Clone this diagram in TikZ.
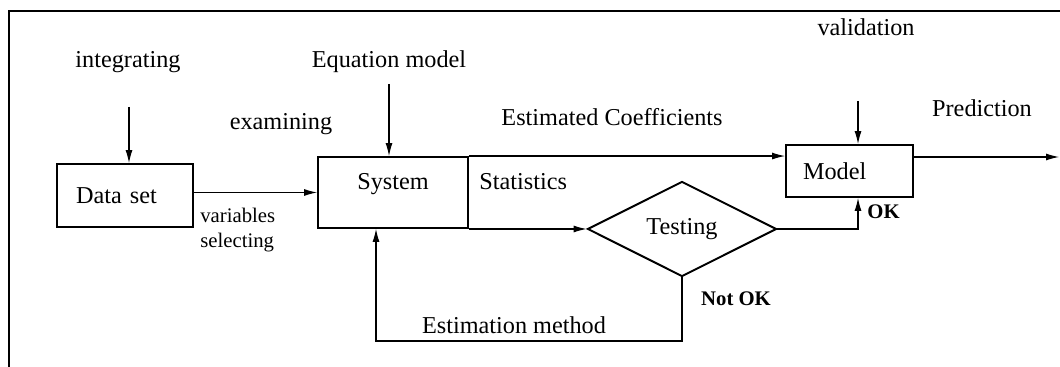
\documentclass[tikz,border=0pt]{standalone}
\usepackage{fontspec}
\setmainfont{Liberation Serif}
\usetikzlibrary{shapes.geometric,arrows.meta}

\tikzset{
  box/.style={draw, line width=1.1pt, rectangle, inner sep=0pt},
  lbl/.style={font=\fontsize{13.8}{16}\selectfont, inner sep=0pt},
  sm/.style={font=\fontsize{11.8}{14}\selectfont, inner sep=0pt},
  flow/.style={line width=0.6pt, -{Latex[length=0.26cm,width=0.14cm]}},
  wire/.style={line width=0.6pt}
}

\begin{document}
\begin{tikzpicture}

    \useasboundingbox (0,0) rectangle (21.2,7.34);

    % marco
    \draw[line width=1.1pt] (0.18,0) -- (0.18,7.12) -- (21.2,7.12);

    % cajas
    \node[box, lbl, minimum width=2.72cm, minimum height=1.26cm, text width=1.96cm, align=left] (data) at (2.5,3.43) {Data set};
    \node[box, lbl, minimum width=3.0cm, minimum height=1.42cm, text depth=0.45cm] (sys) at (7.86,3.49) {System};
    \node[box, lbl, minimum width=2.54cm, minimum height=1.04cm, text width=1.86cm, align=left] (model) at (16.99,3.92) {Model};
    \node[draw, line width=1.1pt, diamond, aspect=2, inner sep=0pt, minimum width=3.78cm, minimum height=1.9cm, lbl] (test) at (13.64,2.76) {Testing};

    % etiquetas
    \node[lbl] (integ) at (2.56,6.10) {integrating};
    \node[lbl] (eqn) at (7.78,6.10) {Equation model};
    \node[lbl] (exam) at (5.62,4.86) {examining};
    \node[lbl] (coef) at (12.24,5.0) {Estimated Coefficients};
    \node[lbl] (valid) at (17.32,6.8) {validation};
    \node[lbl] (pred) at (19.64,5.18) {Prediction};
    \node[lbl, anchor=west] (stat) at (9.58,3.70) {Statistics};
    \node[sm, anchor=west, align=left] (varsel) at (4.0,2.74) {variables\\selecting};
    \node[sm, anchor=west, font=\fontsize{11.8}{14}\selectfont\bfseries] (ok) at (17.34,3.10) {OK};
    \node[sm, font=\fontsize{11.8}{14}\selectfont\bfseries] (notok) at (14.72,1.36) {Not OK};
    \node[lbl] (estm) at (10.28,0.84) {Estimation method};

    % puntos libres
    \coordinate (intop) at (2.58,5.2);
    \coordinate (eqtop) at (7.78,5.66);
    \coordinate (valtop) at (17.16,5.32);
    \coordinate (predend) at (21.18,4.2);
    \coordinate (loop) at (7.52,0.52);

    % flechas
    \draw[flow] (intop) -- (intop |- data.north);
    \draw[flow] (eqtop) -- (eqtop |- sys.north);
    \draw[flow] (valtop) -- (valtop |- model.north);
    \draw[flow] (sys.west -| data.east) -- (sys.west);
    \draw[flow] (sys.north east) -- (sys.north east -| model.west);
    \draw[flow] (test.west -| sys.east) -- (test.west);
    \draw[flow] (test.east) -| (valtop |- model.south);
    \draw[flow] (predend -| model.east) -- (predend);
    \draw[flow] (test.south) |- (loop) -- (loop |- sys.south);

\end{tikzpicture}
\end{document}
